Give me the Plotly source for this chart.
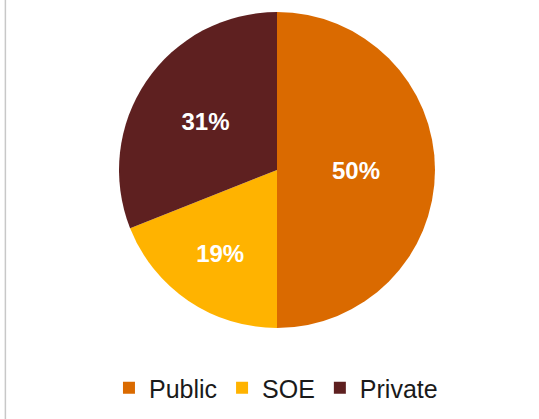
import plotly.graph_objects as go

labels = ["Public", "SOE", "Private"]
values = [50, 19, 31]
colors = ["#DA6A00", "#FFB300", "#5E2020"]

W, H = 539, 419
cx, cy, r = 277, 170, 158

fig = go.Figure(go.Pie(
    labels=labels,
    values=values,
    sort=False,
    direction="clockwise",
    rotation=0,
    marker=dict(colors=colors, line=dict(width=0)),
    textinfo="percent",
    textposition="inside",
    insidetextorientation="horizontal",
    textfont=dict(family="Liberation Sans, Arial, sans-serif", size=24, color="white", weight="bold"),
    domain=dict(x=[(cx - r) / W, (cx + r) / W], y=[(H - cy - r) / H, (H - cy + r) / H]),
    hoverinfo="skip",
))

fig.update_layout(
    width=W, height=H,
    margin=dict(l=0, r=0, t=0, b=0),
    paper_bgcolor="white",
    plot_bgcolor="white",
    showlegend=True,
    legend=dict(
        orientation="h",
        x=0.512, xanchor="center",
        y=(H - 388) / H, yanchor="middle",
        font=dict(family="Liberation Sans, Arial, sans-serif", size=25, color="#1a1a1a"),
        itemwidth=30,
        traceorder="normal",
    ),
    shapes=[dict(type="line", xref="paper", yref="paper", x0=0.01, x1=0.01, y0=0, y1=1,
                 line=dict(color="#c8c8c8", width=1.5))],
)

fig.write_html("out.html", config={"displayModeBar": False},
               post_script="document.body.style.margin='0px';")
